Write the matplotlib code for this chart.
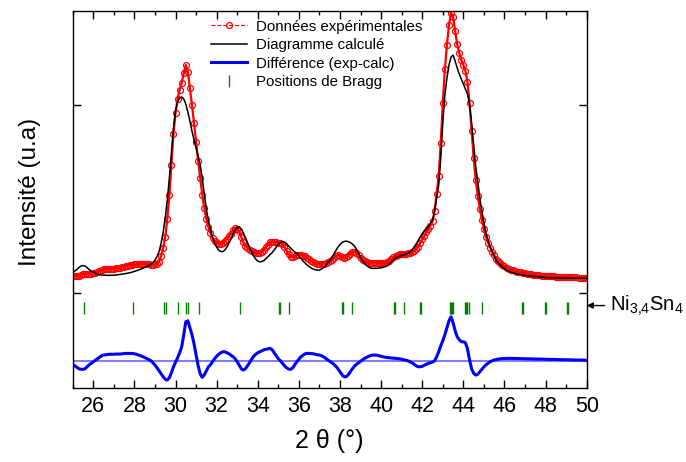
import numpy as np
import matplotlib
matplotlib.use('Agg')
from matplotlib import pyplot as plt
from matplotlib import ticker as tck

plt.rcParams['font.family'] = ['Liberation Sans', 'DejaVu Sans']
plt.rcParams['mathtext.fontset'] = 'custom'
plt.rcParams['mathtext.rm'] = 'Liberation Sans'

# 2theta grid, 0.1 deg steps from 25 to 50
two_theta = np.linspace(25.0, 50.0, 251)

# observed intensity (arbitrary units), one row per degree
exp_counts = [
    17.5, 17, 17, 17.5, 18.5, 18.9, 19, 19.5, 19.5, 19.5,
    20, 20.5, 21, 22, 23, 23.7, 23.8, 24, 24.2, 24.3,
    24.4, 24.7, 25, 25.3, 26, 26.5, 27, 27.4, 27.8, 28.3,
    28.6, 28.8, 28.8, 28.8, 28.9, 28.9, 28.8, 28.7, 28.5, 28.5,
    28.7, 29.5, 31.5, 37, 45, 56.5, 73.7, 98, 128, 159,
    180.5, 194, 203, 210, 220, 228, 221, 205, 188, 170,
    151, 132, 115, 98.4, 85, 74, 66, 60, 55, 52,
    50.5, 49.5, 49.5, 50.5, 52, 54, 57, 59.5, 63, 65,
    64.5, 61.8, 56, 50.7, 47.5, 45.5, 43.5, 42.5, 41.5, 40.5,
    40, 40.3, 41.5, 43.5, 46, 48.5, 50.9, 51.5, 51, 51,
    50.5, 50.5, 48.8, 46, 42.5, 38.7, 36.4, 36, 37, 38.5,
    38.5, 38.5, 37.5, 37, 35.4, 33.9, 32.2, 31, 29.8, 29,
    28.7, 29, 29.5, 30, 31, 32, 33.5, 35.5, 37, 38,
    37.5, 36.5, 35.5, 36, 37.5, 39.5, 41, 41.5, 40.5, 38,
    35.5, 33, 32, 31, 30.5, 30.3, 30.4, 30.4, 30.3, 30,
    29.8, 29.7, 30, 30.7, 32, 33.8, 35.6, 37.5, 38.3, 39,
    39, 39, 39.3, 39.7, 40, 41, 42.5, 44, 46.5, 50,
    54, 57.5, 61, 64.5, 67.5, 71.7, 82, 99, 117, 150,
    190, 224, 248, 268, 280, 276, 262, 249, 240, 233,
    228, 222, 211, 190, 162, 135.5, 112.7, 97.5, 84, 73.5,
    64, 56, 50.5, 45.5, 41.5, 37.8, 33.8, 31.7, 30, 28.2,
    26.8, 25.4, 24.4, 23.4, 22.7, 22, 21.5, 21, 20.6, 20.1,
    19.7, 19.4, 19, 18.8, 18.5, 18.3, 18, 17.8, 17.5, 17.3,
    17, 16.9, 16.8, 16.7, 16.6, 16.5, 16.4, 16.3, 16.2, 16.1,
    16.0, 15.9, 15.8, 15.8, 15.6, 15.6, 15.5, 15.4, 15.3, 15.3,
    15.2,
]

# calculated pattern, same grid
calc_counts = [
    21, 22, 23.5, 25.5, 27, 27.5, 27, 25.5, 23.5, 22,
    21, 20, 19, 18.5, 18, 18, 17.8, 17.7, 17.7, 17.8,
    17.9, 18, 18.3, 18.6, 19, 19.3, 19.6, 20, 20.4, 21,
    21.6, 22.3, 23, 23.8, 24.7, 25.6, 26.5, 27.5, 28.5, 30.5,
    33, 36.5, 41.5, 50, 61, 75, 93, 115, 140, 165,
    182, 191, 195, 196, 194, 189, 181, 172, 162, 153,
    145, 137, 128, 115, 99, 84, 72, 64, 56, 50,
    46, 43, 41.5, 41.5, 43, 46, 50, 54, 59, 63,
    65.5, 66.3, 64, 60, 55.5, 50.5, 45.5, 41, 37, 34,
    32, 31.3, 31.5, 32.5, 34.5, 36.5, 38.5, 40.5, 43, 46,
    48.5, 50.5, 51.3, 51, 49.5, 47, 45, 43, 41, 39.5,
    37, 34.5, 32, 30, 28, 26.5, 25, 24, 23.3, 23,
    23, 24, 25.5, 27.5, 30, 32.5, 35.5, 39, 42.5, 46,
    48.5, 50.5, 51.5, 52, 51.5, 50.5, 49, 47, 44, 40,
    36, 32, 29.5, 27.5, 26, 25, 24.7, 24.7, 24.8, 25,
    25.3, 25.7, 26.5, 27.5, 29, 31, 33, 35, 36, 37,
    37.5, 38, 38.8, 39.7, 41, 43, 46, 49, 52.5, 56,
    59.5, 62, 64.5, 67, 69.5, 73, 82, 95, 108, 135,
    170, 198, 215, 228, 236, 238, 232, 225, 219, 214,
    209, 204, 199, 189, 170, 148, 127, 111, 95, 82,
    70, 60, 53, 46.5, 41.5, 37, 32.5, 30, 28, 26,
    24.5, 23, 22, 21, 20.3, 19.7, 19.2, 18.8, 18.4, 18,
    17.7, 17.4, 17.1, 16.9, 16.7, 16.5, 16.3, 16.1, 15.9, 15.7,
    15.5, 15.4, 15.4, 15.3, 15.3, 15.2, 15.2, 15.1, 15.1, 15.0,
    15.0, 14.9, 14.9, 14.9, 14.8, 14.8, 14.8, 14.7, 14.7, 14.7,
    14.7,
]

# Bragg reflections of Ni3,4Sn4
bragg_pos = [25.55, 27.93, 29.46, 29.54, 30.14, 30.53, 30.61, 31.14,
             33.14, 35.01, 35.09, 35.53, 38.11, 38.16, 38.60, 40.63,
             40.68, 41.10, 41.89, 41.94, 43.37, 43.41, 43.44, 43.48,
             44.08, 44.13, 44.18, 44.29, 44.89, 46.85, 46.90, 47.95,
             48.00, 49.02, 49.07]

phase_label = r'$\mathrm{Ni_{3{,}4}Sn_4}$'

# vertical placement of the lower strips
diff_zero = -67.7
bragg_level = -15.0

exp_counts = np.array(exp_counts)
calc_counts = np.array(calc_counts)
diff_counts = exp_counts - calc_counts + diff_zero

fig = plt.figure(figsize=(6.86, 4.62), dpi=100)
ax = fig.add_axes([0.106, 0.160, 0.7493, 0.8168])

# solid band under the open circles, as the raw data is very dense
ax.plot(two_theta, exp_counts, color='red', lw=1.6, zorder=2)
ax.plot(two_theta, exp_counts, color='red', ls='--', lw=0.8, marker='o',
        ms=4.3, mfc='none', mec='red', mew=0.9, zorder=2,
        label='Données expérimentales')
ax.plot(two_theta, calc_counts, color='black', lw=1.1, zorder=3,
        label='Diagramme calculé')
ax.axhline(diff_zero, color='#8080ff', lw=1.5, zorder=1)
ax.plot(two_theta, diff_counts, color='blue', lw=2.2, zorder=2,
        label='Différence (exp-calc)')
ax.plot(bragg_pos, np.full(len(bragg_pos), bragg_level), ls='none', marker='|',
        ms=9, mew=1.0, color='#008000', label='Positions de Bragg')

ax.set_xlim(25, 50)
ax.set_ylim(-95, 282.3)
ax.xaxis.set_major_locator(tck.MultipleLocator(2))
ax.xaxis.set_minor_locator(tck.MultipleLocator(1))
ax.yaxis.set_major_locator(tck.FixedLocator([0, 188]))
ax.yaxis.set_major_formatter(tck.NullFormatter())
ax.tick_params(which='both', direction='in', top=True, right=True, width=1)
ax.tick_params(which='major', length=6, labelsize=15.5, pad=6)
ax.tick_params(which='minor', length=3)
for s in ax.spines.values():
    s.set_linewidth(1.0)

ax.set_xlabel('2 θ (°)', fontsize=18, labelpad=8)
ax.set_ylabel('Intensité (u.a)', fontsize=17.5)
ax.yaxis.set_label_coords(-0.062, 0.52)

ax.legend(loc='upper left', bbox_to_anchor=(0.255, 0.996), frameon=False,
          fontsize=10.8, borderpad=0, handlelength=2.4, handletextpad=0.6,
          labelspacing=0.3, numpoints=1)

ax.annotate(phase_label, xy=(1.0, -12.5), xycoords=('axes fraction', 'data'),
            xytext=(610, -12.5), textcoords=('figure pixels', 'data'),
            fontsize=14.5, va='center', ha='left', annotation_clip=False,
            arrowprops=dict(arrowstyle='-|>', color='black', lw=1,
                            shrinkA=2, shrinkB=0, mutation_scale=9))

fig.savefig('out.png', dpi=100)
